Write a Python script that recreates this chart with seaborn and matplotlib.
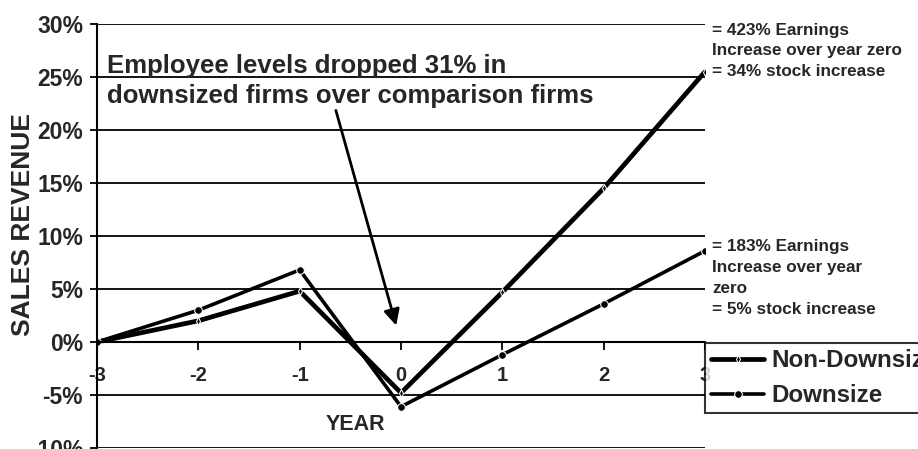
import pandas as pd
import matplotlib
matplotlib.use('Agg')
import matplotlib.pyplot as plt
import seaborn as sns
from matplotlib.ticker import PercentFormatter

years = [-3, -2, -1, 0, 1, 2, 3]
non_downsize = [0.0, 2.0, 4.8, -4.8, 4.7, 14.5, 25.5]
downsize = [0.0, 3.0, 6.8, -6.1, -1.2, 3.6, 8.6]
y_ticks = [-10, -5, 0, 5, 10, 15, 20, 25, 30]

df = pd.DataFrame({'year': years * 2,
                   'revenue': non_downsize + downsize,
                   'group': ['Non-Downsize'] * 7 + ['Downsize'] * 7})

sns.set_style('white')
plt.rcParams['font.family'] = ['Liberation Sans', 'DejaVu Sans']
plt.rcParams['font.weight'] = 'bold'
plt.rcParams['axes.unicode_minus'] = False

fig = plt.figure(figsize=(9.18, 4.49), dpi=100)
ax = fig.add_axes([97 / 918, 1 / 449, (705 - 97) / 918, (448 - 24) / 449])

sns.lineplot(data=df[df.group == 'Non-Downsize'], x='year', y='revenue',
             color='black', lw=3.4, marker='d', markersize=4,
             label='Non-Downsize', ax=ax)
sns.lineplot(data=df[df.group == 'Downsize'], x='year', y='revenue',
             color='black', lw=2.6, marker='o', markersize=5.5,
             label='Downsize', ax=ax)

ax.set_xlim(-3, 3)
ax.set_ylim(-10, 30)
ax.set_yticks(y_ticks)
ax.yaxis.set_major_formatter(PercentFormatter(decimals=0))
ax.set_xticks(years)
ax.set_xticklabels([str(y) for y in years])
for v in y_ticks:
    ax.axhline(v, color='black', lw=1.3, zorder=1)

for s in ['top', 'right']:
    ax.spines[s].set_visible(False)
ax.spines['left'].set_color('black')
ax.spines['left'].set_linewidth(1.5)
ax.spines['bottom'].set_position(('data', 0))
ax.spines['bottom'].set_color('black')
ax.spines['bottom'].set_linewidth(1.5)

ax.tick_params(axis='y', length=5, width=1.3, color='black', direction='out',
               labelsize=16.5, pad=5, left=True)
ax.tick_params(axis='x', length=6, width=1.3, color='black', direction='out',
               labelsize=14.5, pad=11, bottom=True)
for t in ax.get_xticklabels() + ax.get_yticklabels():
    t.set_fontweight('bold')

ax.set_xlabel('')
ax.set_ylabel('')
fig.text(355 / 918, 1 - 425 / 449, 'YEAR', ha='center', va='center',
         fontsize=15.5, fontweight='bold')
fig.text(23 / 918, 1 - 224 / 449, 'SALES REVENUE', ha='center', va='center',
         rotation=90, fontsize=19, fontweight='bold')

ax.text(-2.9, 24.6, 'Employee levels dropped 31% in\ndownsized firms over comparison firms',
        fontsize=18.5, fontweight='bold', va='center', ha='left', linespacing=1.3)
ax.annotate('', xy=(-0.04, 1.3), xytext=(-0.65, 22.1),
            arrowprops=dict(arrowstyle='-|>', color='black', lw=2,
                            mutation_scale=24))

fig.text(712 / 918, 1 - 51 / 449,
         '= 423% Earnings\nIncrease over year zero\n= 34% stock increase',
         fontsize=12.3, fontweight='bold', va='center', ha='left', linespacing=1.5)
fig.text(712 / 918, 1 - 278 / 449,
         '= 183% Earnings\nIncrease over year\nzero\n= 5% stock increase',
         fontsize=12.3, fontweight='bold', va='center', ha='left', linespacing=1.5)

leg = ax.legend(loc='upper left', bbox_to_anchor=(705 / 918, 1 - 343 / 449),
                bbox_transform=fig.transFigure, frameon=True, fancybox=False,
                edgecolor='black', prop={'size': 17.4, 'weight': 'bold'},
                handlelength=2.2, handletextpad=0.3, borderpad=0.25,
                labelspacing=0.5, borderaxespad=0)
leg.get_frame().set_linewidth(1.5)

fig.savefig('out.png', dpi=100)
